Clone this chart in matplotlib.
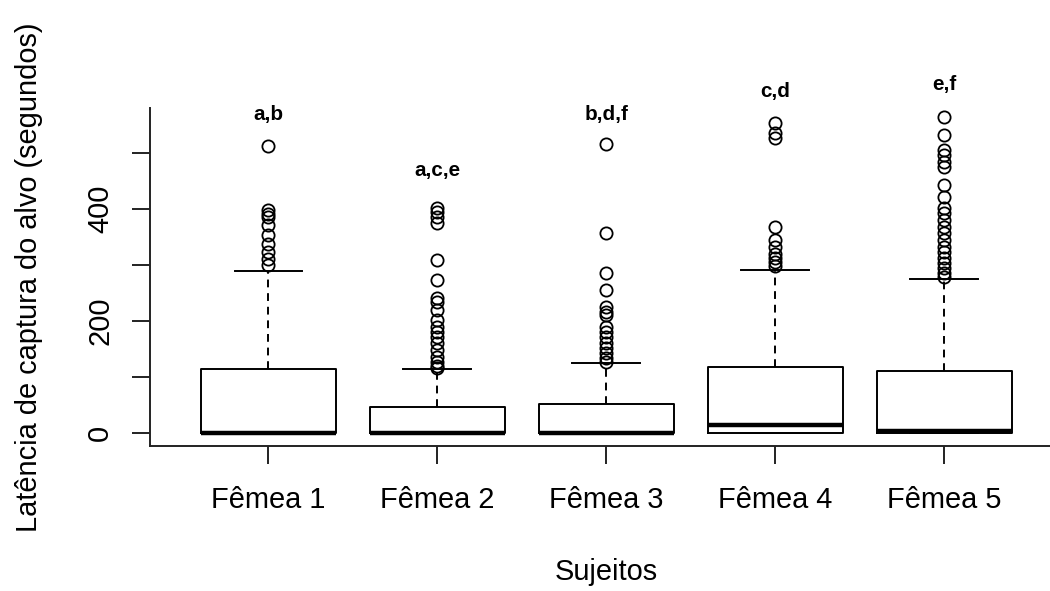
import matplotlib
matplotlib.use("Agg")
import matplotlib.pyplot as plt

plt.rcParams['font.family'] = ['Liberation Sans', 'DejaVu Sans']

# ---- data ----
groups = ["Fêmea 1", "Fêmea 2", "Fêmea 3", "Fêmea 4", "Fêmea 5"]
q1 = [0, 0, 0, 0, 0]
medians = [0, 0, 0, 13.8, 3.6]
q3 = [113.4, 46.5, 50.8, 117, 110]
whisker_low = [0, 0, 0, 0, 0]
whisker_high = [289, 113.5, 124, 291, 275]

outliers_f1 = [513, 398, 392, 386, 371, 353, 338, 323, 311, 300]
outliers_f2 = [401.5, 395.5, 386.5, 374.7, 309, 273, 240.5, 234.5, 219.5, 201.7,
               189.7, 180.7, 171.8, 160, 148, 136, 127, 120, 116]
outliers_f3 = [517, 356.8, 285, 255, 225.5, 216.5, 210.6, 189.7, 180.7, 171.8,
               160, 151, 142, 133, 127]
outliers_f4 = [554, 536, 527, 368, 344, 332, 320, 312, 305, 298]
outliers_f5 = [565.5, 532.7, 506, 497, 485, 476, 443, 422, 401.5, 392.6, 380.6,
               368.7, 356.8, 344.8, 333, 324, 312, 303, 294, 285, 279]

letters = ["a,b", "a,c,e", "b,d,f", "c,d", "e,f"]
letter_y = [559.6, 459, 559.6, 601, 613]

y_ticks = [0, 100, 200, 300, 400, 500]
y_ticklabels = ["0", "", "200", "", "400", ""]

# ---- figure ----
W, H = 1050, 591
fig = plt.figure(figsize=(W / 100, H / 100), dpi=100)
ax_left, ax_right, ax_top, ax_bottom = 150, 1062.6, 107.7, 446
ax = fig.add_axes([ax_left / W, (H - ax_bottom) / H,
                   (ax_right - ax_left) / W, (ax_bottom - ax_top) / H])

all_outliers = [outliers_f1, outliers_f2, outliers_f3, outliers_f4, outliers_f5]
stats = []
for i in range(len(groups)):
    stats.append(dict(med=medians[i], q1=q1[i], q3=q3[i],
                      whislo=whisker_low[i], whishi=whisker_high[i],
                      fliers=all_outliers[i], label=groups[i]))

positions = list(range(1, len(groups) + 1))
lw = 1.4
ax.bxp(stats, positions=positions, widths=0.8, capwidths=0.4,
       patch_artist=False, showfliers=True,
       boxprops=dict(color="black", linewidth=lw),
       whiskerprops=dict(color="black", linewidth=lw, linestyle=(0, (4, 3))),
       capprops=dict(color="black", linewidth=lw),
       medianprops=dict(color="black", linewidth=3.2, solid_capstyle="butt"),
       flierprops=dict(marker="o", markerfacecolor="none", markeredgecolor="black",
                       markersize=8.8, markeredgewidth=1.3, linestyle="none"))

for i, (lab, yv) in enumerate(zip(letters, letter_y)):
    ax.text(positions[i], yv, lab, ha="center", va="baseline",
            fontsize=14.9, fontweight="bold", clip_on=False)

ax.set_xlim(0.3, 5.7)
ax.set_ylim(-23.8, 581.6)

for s in ["top", "right"]:
    ax.spines[s].set_visible(False)
for s in ["left", "bottom"]:
    ax.spines[s].set_linewidth(lw)
    ax.spines[s].set_color("#222222")

ax.set_xticks(positions)
ax.set_xticklabels(groups)
ax.set_yticks(y_ticks)
ax.set_yticklabels(y_ticklabels, rotation=90, va="center")
ax.tick_params(axis="x", length=12.7, width=lw, pad=16, labelsize=20.9, color="#222222")
ax.tick_params(axis="y", length=12.7, width=lw, pad=13, labelsize=20.9, color="#222222")

ax.set_xlabel("Sujeitos", fontsize=20.9)
ax.xaxis.label.set_va("baseline")
ax.xaxis.set_label_coords(0.5, -(580 - ax_bottom) / (ax_bottom - ax_top))

ax.set_ylabel("Latência de captura do alvo (segundos)", fontsize=20.9)
ax.yaxis.label.set_rotation_mode("anchor")
ax.yaxis.label.set_va("baseline")
ax.yaxis.label.set_ha("center")
ax.yaxis.set_label_coords(-(ax_left - 36.7) / (ax_right - ax_left), 0.5)

fig.savefig("out.png", dpi=100)
